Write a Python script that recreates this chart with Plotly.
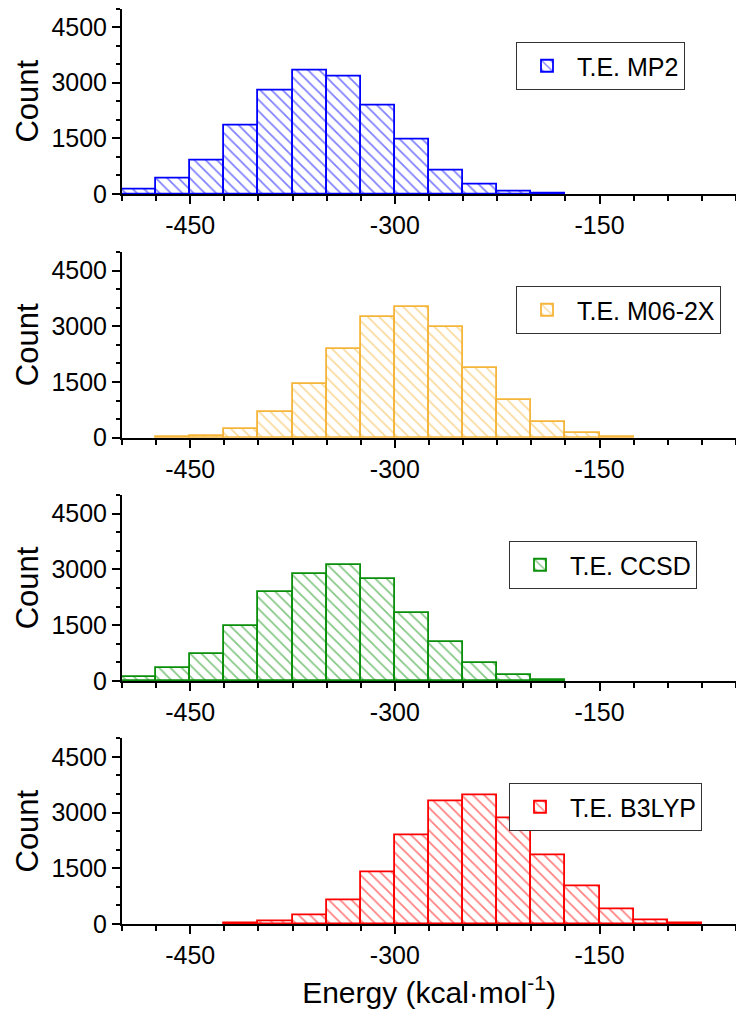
import plotly.graph_objects as go

# Bin left edges (kcal/mol), bin width 25
bin_left = [-500, -475, -450, -425, -400, -375, -350, -325, -300, -275,
            -250, -225, -200, -175, -150, -125, -100, -75]
bin_width = 25

mp2 = [110, 430, 900, 1850, 2800, 3340, 3180, 2380, 1460, 630,
       250, 60, 15, 0, 0, 0, 0, 0]
m062x = [0, 8, 50, 240, 690, 1440, 2400, 3250, 3510, 2980,
         1890, 1020, 420, 135, 25, 0, 0, 0]
ccsd = [120, 340, 720, 1470, 2390, 2870, 3110, 2730, 1840, 1050,
        475, 150, 40, 0, 0, 0, 0, 0]
b3lyp = [0, 0, 0, 20, 70, 235, 645, 1400, 2380, 3300,
         3470, 2840, 1840, 1015, 400, 100, 25, 0]

names = ["T.E. MP2", "T.E. M06-2X", "T.E. CCSD", "T.E. B3LYP"]
series = [mp2, m062x, ccsd, b3lyp]
colors = ["#0000FF", "#F5B53A", "#0A8F0A", "#FF0000"]

x_ticks = [-450, -300, -150]
x_ticktext = ["-450", "-300", "-150"]
y_ticks = [0, 1500, 3000, 4500]

FONT = "Liberation Sans, Arial, sans-serif"
W, H = 736, 1019
ML, MR, MT, MB = 122, 0, 8, 95
plot_h = H - MT - MB
bottom_px = H - MB

# panel pixel extents (top, bottom)
panels_px = [(8.5, 194.0), (252.0, 437.7), (495.0, 681.0), (738.3, 924.0)]
legend_px = [(516, 42), (516, 286), (509, 541), (509, 783)]


def frac(y):
    return (bottom_px - y) / plot_h


fig = go.Figure()
layout = dict(
    width=W, height=H,
    margin=dict(l=ML, r=MR, t=MT, b=MB),
    plot_bgcolor="white", paper_bgcolor="white",
    font=dict(family=FONT, size=25, color="black"),
    showlegend=True,
    bargap=0,
)

for i, (name, vals, col) in enumerate(zip(names, series, colors)):
    k = "" if i == 0 else str(i + 1)
    xs = [b for b, v in zip(bin_left, vals) if v > 0]
    ys = [v for v in vals if v > 0]
    fig.add_trace(go.Bar(
        x=xs, y=ys, width=bin_width, offset=0,
        name=name,
        xaxis="x" + k, yaxis="y" + k,
        legend="legend" + k,
        marker=dict(
            color="white",
            line=dict(color=col, width=1.8),
            pattern=dict(shape="\\", fgcolor=col, bgcolor="white",
                         size=8, solidity=0.22),
        ),
    ))
    top, bot = panels_px[i]
    xa = dict(
        domain=[0, 1], anchor="y" + k, range=[-500, -50],
        tickmode="array", tickvals=x_ticks, ticktext=x_ticktext,
        ticks="outside", ticklen=8, tickwidth=2, tickcolor="black",
        showline=True, linecolor="black", linewidth=2,
        showgrid=False, zeroline=False,
        tickfont=dict(size=25),
        minor=dict(dtick=25, tick0=-500, ticks="outside", ticklen=5,
                   tickwidth=1.5, tickcolor="black", showgrid=False),
    )
    if i == 3:
        xa["title"] = dict(text="Energy (kcal·mol<sup>-1</sup>)",
                           font=dict(size=30), standoff=14)
    layout["xaxis" + k] = xa
    layout["yaxis" + k] = dict(
        domain=[frac(bot), frac(top)], anchor="x" + k, range=[0, 5000],
        tickmode="array", tickvals=y_ticks,
        ticks="outside", ticklen=8, tickwidth=2, tickcolor="black",
        showline=True, linecolor="black", linewidth=2,
        showgrid=False, zeroline=False,
        tickfont=dict(size=25),
        minor=dict(dtick=500, tick0=0, ticks="outside", ticklen=4,
                   tickwidth=1.5, tickcolor="black", showgrid=False),
        title=dict(text="Count", font=dict(size=31), standoff=4),
    )
    lx, ly = legend_px[i]
    layout["legend" + k] = dict(
        x=(lx - ML) / (W - ML - MR), y=frac(ly),
        xanchor="left", yanchor="top",
        bordercolor="#333", borderwidth=1, bgcolor="white",
        font=dict(size=25, family=FONT),
        itemwidth=50,
    )

fig.update_layout(**layout)
fig.write_html("out.html")
